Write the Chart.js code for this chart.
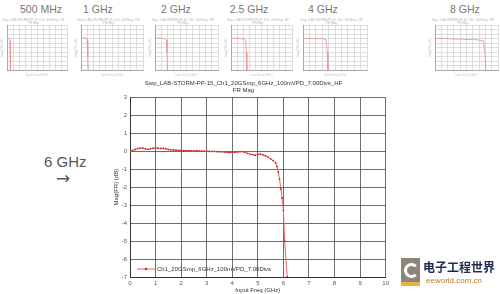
<!DOCTYPE html>
<html>
<head>
<meta charset="utf-8">
<script src="https://cdn.jsdelivr.net/npm/chart.js@4"></script>
<style>
  body { margin: 0; width: 500px; height: 294px; overflow: hidden; background: #fff; position: relative; font-family: "Liberation Sans", Arial, sans-serif; }
  canvas { position: absolute; }
  .lbl { position: absolute; font-size: 10.5px; color: #777; transform: translateX(-50%); white-space: nowrap; }
  #bigLabel { position: absolute; left: 44px; top: 153px; font-size: 15px; color: #555; }
  #arrow { position: absolute; left: 56px; top: 168px; font-size: 17px; color: #555; font-family: "DejaVu Sans", sans-serif; }
  #logo { position: absolute; left: 401px; top: 258px; width: 19px; height: 28px; background: #8d8577; }
  #logo .c { position: absolute; left: 3px; top: 5px; width: 9px; height: 9px; border: 3px solid #fff; border-radius: 50%; border-right-color: transparent; }
  #logo .s { position: absolute; left: 0; bottom: 0; width: 19px; height: 4px; background: #e9b43c; }
  #logoTxt { position: absolute; left: 423px; top: 258px; font-family: "Noto Sans CJK SC", sans-serif; font-size: 12px; font-weight: bold; color: #1f2a55; }
  #logoUrl { position: absolute; left: 426px; top: 276px; font-size: 8px; color: #c0782a; }
</style>
</head>
<body>
<div class="lbl" style="left:41px;top:3px">500 MHz</div>
<div class="lbl" style="left:98px;top:3px">1 GHz</div>
<div class="lbl" style="left:176px;top:3px">2 GHz</div>
<div class="lbl" style="left:249px;top:3px">2.5 GHz</div>
<div class="lbl" style="left:323px;top:3px">4 GHz</div>
<div class="lbl" style="left:465px;top:3px">8 GHz</div>

<canvas id="t0"></canvas>
<canvas id="t1"></canvas>
<canvas id="t2"></canvas>
<canvas id="t3"></canvas>
<canvas id="t4"></canvas>
<canvas id="t5"></canvas>

<div id="bigLabel">6 GHz</div>
<div id="arrow">&#8594;</div>

<canvas id="main" width="292" height="218" style="left:100px;top:76px;width:292px;height:218px"></canvas>

<div id="logo"><div class="c"></div><div class="s"></div></div>
<div id="logoTxt">电子工程世界</div>
<div id="logoUrl">eeworld.com.cn</div>

<script>
// main trace (6 GHz)
const freqGHz = [0.0, 0.1, 0.2, 0.3, 0.4, 0.5, 0.6, 0.7, 0.8, 0.9,
  1.0, 1.1, 1.2, 1.3, 1.4, 1.5, 1.6, 1.7, 1.8, 1.9,
  2.0, 2.1, 2.2, 2.3, 2.4, 2.5, 2.6, 2.7, 2.8, 2.9,
  3.0, 3.1, 3.2, 3.3, 3.4, 3.5, 3.6, 3.7, 3.8, 3.9,
  4.0, 4.1, 4.2, 4.3, 4.4, 4.5, 4.6, 4.7, 4.8, 4.9,
  5.0, 5.1, 5.2, 5.3, 5.4, 5.5, 5.6, 5.7, 5.75, 5.8,
  5.85, 5.9, 5.95, 6.0, 6.05, 6.15];
const magDb = [0.00, 0.05, 0.10, 0.15, 0.18, 0.17, 0.13, 0.11, 0.14, 0.17,
  0.18, 0.17, 0.16, 0.16, 0.14, 0.10, 0.08, 0.07, 0.06, 0.05,
  0.05, 0.04, 0.03, 0.03, 0.02, 0.02, 0.03, 0.02, 0.01, 0.01,
  0.00, 0.00, -0.01, -0.01, -0.02, -0.02, -0.03, -0.04, -0.06, -0.07,
  -0.06, -0.06, -0.04, -0.02, -0.02, -0.06, -0.12, -0.17, -0.19, -0.22,
  -0.18, -0.15, -0.20, -0.25, -0.32, -0.42, -0.52, -0.65, -0.85, -1.15,
  -1.55, -2.10, -2.60, -3.30, -5.00, -7.00];

const xTicks = [0, 1, 2, 3, 4, 5, 6, 7, 8, 9, 10];
const yTicks = [3, 2, 1, 0, -1, -2, -3, -4, -5, -6, -7];

const plotTitle = ["Swp_LAB-STORM-PP-15_Ch1_20GSmp_6GHz_100mVPD_7.00Divs_HF", "FR Mag"];
const seriesName = "Ch1_20GSmp_6GHz_100mVPD_7.00Divs";

// thumbnails: bandwidth traces
const thumbFreq = [
  [0.0, 0.2, 0.4, 0.5, 0.55, 0.6],
  [0.0, 0.3, 0.6, 0.9, 1.0, 1.1, 1.2],
  [0.0, 0.5, 1.0, 1.5, 1.8, 1.9, 2.0],
  [0.0, 0.5, 1.0, 1.5, 2.0, 2.4, 2.5, 2.6],
  [0.0, 1.0, 2.0, 3.0, 3.6, 3.8, 3.9],
  [0.0, 1.0, 2.0, 3.0, 4.0, 5.0, 6.0, 7.0, 7.7, 7.9, 8.1]
];
const thumbMag = [
  [0.0, 0.1, 0.1, -0.5, -4.0, -7.5],
  [0.0, 0.1, 0.2, 0.1, -0.5, -4.0, -7.5],
  [0.0, 0.1, 0.1, 0.0, -0.3, -3.0, -7.5],
  [0.0, 0.1, 0.1, 0.0, 0.0, -0.3, -3.0, -7.5],
  [0.0, 0.1, 0.0, 0.0, -0.2, -3.0, -7.5],
  [0.0, 0.1, 0.0, -0.1, -0.1, -0.2, -0.2, -0.3, -0.5, -3.0, -7.5]
];
const thumbBox = [[7, 67], [81, 143], [155, 218], [231, 292], [303, 367], [435, 498]];

const redLine = "#e26a6a";
const redDot = "#c42a2a";

function makeThumb(i) {
  const left = thumbBox[i][0] - 7;
  const w = thumbBox[i][1] + 4 - left;
  const cv = document.getElementById("t" + i);
  cv.width = w; cv.height = 63;
  cv.style.left = left + "px"; cv.style.top = "14px";
  cv.style.width = w + "px"; cv.style.height = "63px";
  new Chart(cv.getContext("2d"), {
    type: "line",
    data: {
      datasets: [{
        data: thumbFreq[i].map((f, k) => ({ x: f, y: thumbMag[i][k] })),
        borderColor: "#e89090",
        borderWidth: 0.8,
        pointRadius: 0,
      }],
    },
    options: {
      responsive: false,
      animation: false,
      layout: { padding: { right: 4 } },
      plugins: {
        legend: { display: false },
        tooltip: { enabled: false },
        title: {
          display: true,
          text: ["Swp_LAB-STORM-PP-15_Ch1_20GSmp_HF", "FR Mag"],
          font: { size: 3, family: "Liberation Sans" },
          color: "#c8c8c8",
          padding: { top: 4, bottom: 0 },
        },
      },
      scales: {
        x: {
          type: "linear", min: 0, max: 10,
          ticks: { display: false, stepSize: 1 },
          grid: { color: "#c8c8c8", lineWidth: 0.6, drawTicks: false },
          border: { color: "#aaa" },
          title: { display: true, text: "Input Freq (GHz)", font: { size: 3 }, color: "#c8c8c8", padding: 0 },
          afterFit: (s) => { s.height = 7; },
        },
        y: {
          min: -7, max: 3,
          ticks: { display: false, stepSize: 1 },
          grid: { color: "#c8c8c8", lineWidth: 0.6, drawTicks: false },
          border: { color: "#aaa" },
          title: { display: true, text: "Mag(FR) (dB)", font: { size: 3 }, color: "#c8c8c8", padding: 0 },
          afterFit: (s) => { s.width = 7; },
        },
      },
    },
  });
}
for (let i = 0; i < thumbBox.length; i++) makeThumb(i);

// legend drawn inside the plot, bottom-left
const insideLegend = {
  id: "insideLegend",
  afterDraw(chart) {
    const { ctx, chartArea } = chart;
    const ds = chart.data.datasets[0];
    const y = chartArea.bottom - 8;
    const x0 = chartArea.left + 7;
    ctx.save();
    ctx.strokeStyle = ds.borderColor;
    ctx.lineWidth = 1;
    ctx.beginPath();
    ctx.moveTo(x0, y);
    ctx.lineTo(x0 + 18, y);
    ctx.stroke();
    ctx.fillStyle = ds.pointBackgroundColor;
    ctx.beginPath();
    ctx.arc(x0 + 9, y, 1.2, 0, Math.PI * 2);
    ctx.fill();
    ctx.fillStyle = "#333";
    ctx.font = "6px 'Liberation Sans', Arial, sans-serif";
    ctx.textBaseline = "middle";
    ctx.fillText(ds.label, x0 + 20, y);
    ctx.restore();
  },
};

new Chart(document.getElementById("main").getContext("2d"), {
  type: "line",
  data: {
    datasets: [{
      label: seriesName,
      data: freqGHz.map((f, k) => ({ x: f, y: magDb[k] })),
      borderColor: redLine,
      borderWidth: 1,
      pointRadius: 0.9,
      pointBorderWidth: 0,
      pointBackgroundColor: redDot,
      tension: 0,
    }],
  },
  options: {
    responsive: false,
    animation: false,
    layout: { padding: { left: 0, right: 5, top: 0, bottom: 0 } },
    plugins: {
      legend: { display: false },
      tooltip: { enabled: false },
      title: {
        display: true,
        text: plotTitle,
        font: { size: 6, family: "Liberation Sans", weight: "normal" },
        color: "#333",
        lineHeight: 1.2,
        padding: { top: 4, bottom: 3 },
      },
    },
    scales: {
      x: {
        type: "linear", min: 0, max: 10,
        afterBuildTicks: (s) => { s.ticks = xTicks.map((v) => ({ value: v })); },
        ticks: { font: { size: 6, family: "Liberation Sans" }, color: "#555", padding: 3, maxRotation: 0 },
        grid: { color: "#4a4a4a", lineWidth: 0.8, drawTicks: false },
        border: { color: "#333", width: 1 },
        title: { display: true, text: "Input Freq (GHz)", font: { size: 6, family: "Liberation Sans" }, color: "#333", padding: 0 },
        afterFit: (s) => { s.height = 17; },
      },
      y: {
        type: "linear", min: -7, max: 3,
        afterBuildTicks: (s) => { s.ticks = yTicks.map((v) => ({ value: v })); },
        ticks: { font: { size: 6, family: "Liberation Sans" }, color: "#555", padding: 3 },
        grid: { color: "#4a4a4a", lineWidth: 0.8, drawTicks: false },
        border: { color: "#333", width: 1 },
        title: { display: true, text: "Mag(FR) (dB)", font: { size: 6, family: "Liberation Sans" }, color: "#333", padding: { top: 13, bottom: 0 } },
        afterFit: (s) => { s.width = 30; },
      },
    },
  },
  plugins: [insideLegend],
});
</script>
</body>
</html>
